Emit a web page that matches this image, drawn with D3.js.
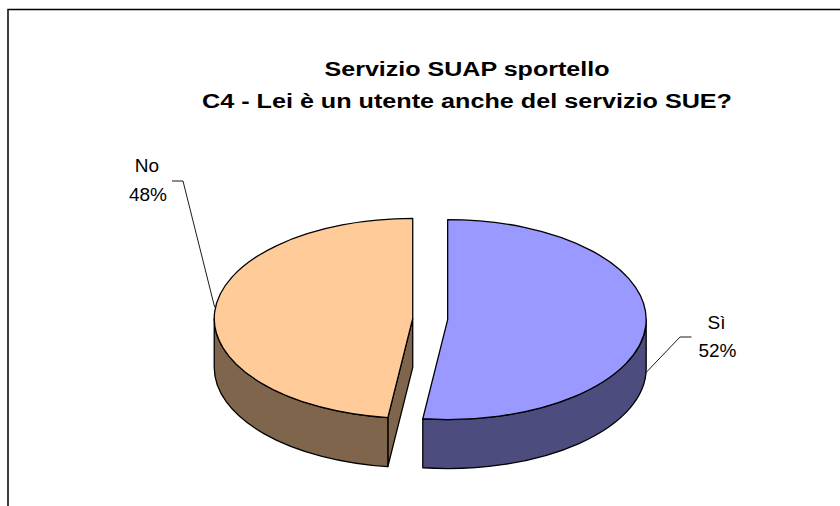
<!DOCTYPE html>
<html>
<head>
<meta charset="utf-8">
<script src="https://cdn.jsdelivr.net/npm/d3@7"></script>
<style>
  body { margin: 0; background: #fff; }
  svg { display: block; }
</style>
</head>
<body>
<svg></svg>
<script>
// chart data
const categories = ["Sì", "No"];
const values = [52, 48];
const topColors = ["#9999ff", "#ffcc99"];
const sideColors = ["#4c4c7f", "#7f654c"];
const titleLines = ["Servizio SUAP sportello", "C4 - Lei è un utente anche del servizio SUE?"];

const w = 840;
const h = 506;
const svg = d3.select("svg").attr("width", w).attr("height", h);

// frame (only top and left edges fall inside the picture)
svg.append("rect")
  .attr("x", 8).attr("y", 9.5)
  .attr("width", 900).attr("height", 600)
  .attr("fill", "#fff")
  .attr("stroke", "#000")
  .attr("stroke-width", 1.5);

// title
const titleWidths = [285, 530];
svg.selectAll("text.title")
  .data(titleLines)
  .enter()
  .append("text")
  .attr("class", "title")
  .attr("x", 467)
  .attr("y", (d, i) => 76 + i * 32)
  .attr("text-anchor", "middle")
  .attr("textLength", (d, i) => titleWidths[i])
  .attr("lengthAdjust", "spacingAndGlyphs")
  .style("font-family", "'Liberation Sans', Arial, sans-serif")
  .style("font-weight", "bold")
  .style("font-size", "19.5px")
  .text(d => d);

// pie geometry
const cx = 430.2, cy = 319;
const rx = 198.5, ry = 100;
const depth = 49;
const explode = 17.5;

const pie = d3.pie().sort(null).value(d => d.value);
const arcs = pie(categories.map((c, i) => ({ name: c, value: values[i], i })));
const total = d3.sum(values);

// point on the ellipse for angle a (0 = 12 o'clock, clockwise)
const pt = (c, a) => [c[0] + rx * Math.sin(a), c[1] - ry * Math.cos(a)];

const g = svg.append("g")
  .attr("stroke", "#000")
  .attr("stroke-width", 1.3)
  .attr("stroke-linejoin", "round");

arcs.forEach(a => {
  const mid = (a.startAngle + a.endAngle) / 2;
  const c = [cx + explode * Math.sin(mid), cy - explode * Math.cos(mid) * ry / rx];
  a.center = c;
  a.mid = mid;
  const cd = [c[0], c[1] + depth];

  // cut faces facing the viewer
  [[a.startAngle, a.startAngle - Math.PI / 2], [a.endAngle, a.endAngle + Math.PI / 2]].forEach(([ang, n]) => {
    if (-Math.cos(n) > 0.01) {
      const p = pt(c, ang), pd = pt(cd, ang);
      g.append("path")
        .attr("d", `M${c}L${p}L${pd}L${cd}Z`)
        .attr("fill", sideColors[a.data.i]);
    }
  });

  // outer side (front half only)
  const s = Math.max(a.startAngle, Math.PI / 2);
  const e = Math.min(a.endAngle, 3 * Math.PI / 2);
  if (e > s) {
    const p0 = pt(c, s), p1 = pt(c, e), q0 = pt(cd, s), q1 = pt(cd, e);
    g.append("path")
      .attr("d", `M${p0}A${rx},${ry} 0 0 1 ${p1}L${q1}A${rx},${ry} 0 0 0 ${q0}Z`)
      .attr("fill", sideColors[a.data.i]);
  }

  // top face
  const large = a.endAngle - a.startAngle > Math.PI ? 1 : 0;
  g.append("path")
    .attr("d", `M${c}L${pt(c, a.startAngle)}A${rx},${ry} 0 ${large} 1 ${pt(c, a.endAngle)}Z`)
    .attr("fill", topColors[a.data.i]);
});

// labels with leader lines
const labelLayout = {
  "Sì": { x: 716.5, y: 328.7, elbow: [[691.5, 337], [680, 337]], drop: 47 },
  "No": { x: 147, y: 172.3, elbow: [[172, 181], [183, 181]], drop: -5 }
};

arcs.forEach(a => {
  const L = labelLayout[a.data.name];
  const p = pt(a.center, a.mid);
  const end = [p[0], p[1] + L.drop];
  svg.append("path")
    .attr("d", d3.line()([...L.elbow, end]))
    .attr("fill", "none")
    .attr("stroke", "#000")
    .attr("stroke-width", 0.9);

  const t = svg.append("text")
    .attr("text-anchor", "middle")
    .style("font-family", "'Liberation Sans', Arial, sans-serif")
    .style("font-size", "19px");
  t.append("tspan").attr("x", L.x).attr("y", L.y).text(a.data.name);
  t.append("tspan").attr("x", L.x + 1).attr("y", L.y + 28.5)
    .text(Math.round(a.data.value / total * 100) + "%");
});
</script>
</body>
</html>
